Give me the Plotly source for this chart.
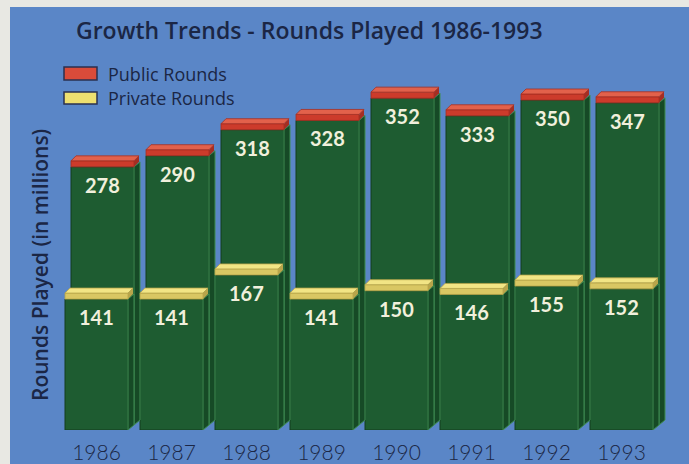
import plotly.graph_objects as go

# ---------------- data ----------------
years = ["1986", "1987", "1988", "1989", "1990", "1991", "1992", "1993"]
public_rounds = [278, 290, 318, 328, 352, 333, 350, 347]
private_rounds = [141, 141, 167, 141, 150, 146, 155, 152]

# ---------------- style ----------------
W, H = 689, 464
ML, MR, MT, MB = 56, 18, 40, 34
PW, PH = W - ML - MR, H - MT - MB
XR = [-0.55, 7.65]
YR = [0, 420]
XU = (XR[1] - XR[0]) / PW      # x units per px
YU = (YR[1] - YR[0]) / PH      # y units per px

FACE_L = -0.43
FACE_W = 0.84
DX = 6 * XU
DY = 5 * YU
CAP_H = 6 * YU
CDX = 5 * XU

BLUE = "#5a86c7"
GREEN = "#1e5c31"
GREEN_SIDE = "#164a26"
GREEN_EDGE = "#3f8c52"
RED_FRONT = "#cc3b2b"
RED_TOP = "#e2614b"
RED_SIDE = "#a52e22"
YEL_FRONT = "#d9c763"
YEL_TOP = "#f2e585"
YEL_SIDE = "#b8a54a"
NAVY = "#1b2645"
CREAM = "#f1f0dc"
FONT = "Lato"
TFONT = "Open Sans"

idx = list(range(len(years)))

fig = go.Figure()

# back (public) bar faces
fig.add_trace(go.Bar(
    x=idx, y=public_rounds, base=[DY] * len(idx),
    offset=FACE_L + DX, width=FACE_W,
    marker=dict(color=GREEN, line=dict(color="#123d1e", width=1)),
    hoverinfo="skip", showlegend=False))
# front (private) bar faces
fig.add_trace(go.Bar(
    x=idx, y=private_rounds, base=[0] * len(idx),
    offset=FACE_L, width=FACE_W,
    marker=dict(color=GREEN, line=dict(color="#123d1e", width=1)),
    hoverinfo="skip", showlegend=False))


def poly(pts):
    return "M " + " L ".join(f"{x},{y}" for x, y in pts) + " Z"


def side(xr, y0, y1):
    return poly([(xr, y0), (xr + DX, y0 + DY), (xr + DX, y1 + DY), (xr, y1)])


def cap(xl, xr, top, c_front, c_top, c_side):
    out = []
    out.append(dict(type="path", xref="x", yref="y", layer="above",
                    path=poly([(xl, top), (xr, top), (xr, top + CAP_H), (xl, top + CAP_H)]),
                    fillcolor=c_front, line=dict(color=c_side, width=0.8)))
    out.append(dict(type="path", xref="x", yref="y", layer="above",
                    path=poly([(xr, top), (xr + CDX, top + DY), (xr + CDX, top + DY + CAP_H), (xr, top + CAP_H)]),
                    fillcolor=c_side, line=dict(width=0)))
    t = top + CAP_H
    out.append(dict(type="path", xref="x", yref="y", layer="above",
                    path=poly([(xl, t), (xr, t), (xr + CDX, t + DY), (xl + CDX, t + DY)]),
                    fillcolor=c_top, line=dict(color=c_side, width=0.8)))
    return out


shapes = []
# blue panel
shapes.append(dict(type="rect", xref="paper", yref="paper", layer="below",
                   x0=(10 - ML) / PW, x1=1.2, y0=-0.3, y1=(H - MB - 7) / PH,
                   fillcolor=BLUE, line=dict(width=0)))

annotations = []
for i, (pub, pri) in enumerate(zip(public_rounds, private_rounds)):
    bl = i + FACE_L + DX
    br = bl + FACE_W
    shapes.append(dict(type="path", xref="x", yref="y", layer="above",
                       path=side(br, DY, pub + DY), fillcolor=GREEN_SIDE,
                       line=dict(color=GREEN_EDGE, width=1)))
    shapes += cap(bl, br, pub + DY, RED_FRONT, RED_TOP, RED_SIDE)
    fl = i + FACE_L
    fr = fl + FACE_W
    shapes.append(dict(type="path", xref="x", yref="y", layer="above",
                       path=side(fr, 0, pri), fillcolor=GREEN_SIDE,
                       line=dict(color=GREEN_EDGE, width=1)))
    shapes += cap(fl, fr, pri, YEL_FRONT, YEL_TOP, YEL_SIDE)
    annotations.append(dict(x=bl + FACE_W / 2, y=pub + DY, yshift=-18, text=str(pub),
                            showarrow=False, xref="x", yref="y",
                            font=dict(family=FONT, size=20, color=CREAM, weight="bold")))
    annotations.append(dict(x=fl + FACE_W / 2, y=pri, yshift=-18, text=str(pri),
                            showarrow=False, xref="x", yref="y",
                            font=dict(family=FONT, size=20, color=CREAM, weight="bold")))


def px_x(p):
    return (p - ML) / PW


def px_y(p):
    return (H - MB - p) / PH


legend_items = [("Public Rounds", "#d94b3a", 67, 80), ("Private Rounds", "#eee070", 92, 104)]
for label, col, y0, y1 in legend_items:
    shapes.append(dict(type="rect", xref="paper", yref="paper",
                       x0=px_x(64), x1=px_x(97), y0=px_y(y1), y1=px_y(y0),
                       fillcolor=col, line=dict(color="#2a3050", width=1.5)))
    annotations.append(dict(xref="paper", yref="paper", x=px_x(106), y=px_y((y0 + y1) / 2),
                            xanchor="left", yanchor="middle", text=label, showarrow=False,
                            font=dict(family=TFONT, size=18, color=NAVY)))

annotations.append(dict(xref="paper", yref="paper", x=px_x(74), y=px_y(30),
                        xanchor="left", yanchor="middle", showarrow=False,
                        text="Growth Trends - Rounds Played 1986-1993",
                        font=dict(family=TFONT, size=23, color=NAVY, weight=600)))
annotations.append(dict(xref="paper", yref="paper", x=px_x(40), y=px_y(265),
                        xanchor="center", yanchor="middle", showarrow=False, textangle=-90,
                        text="Rounds Played (in millions)",
                        font=dict(family=TFONT, size=21, color=NAVY, weight=600)))

fig.update_layout(
    width=W, height=H,
    margin=dict(l=ML, r=MR, t=MT, b=MB, pad=0, autoexpand=False),
    paper_bgcolor="#e8e8e3",
    plot_bgcolor="rgba(0,0,0,0)",
    barmode="overlay",
    showlegend=False,
    shapes=shapes,
    annotations=annotations,
    xaxis=dict(range=XR, tickmode="array", tickvals=[i + FACE_L + FACE_W / 2 for i in idx],
               ticktext=years, showgrid=False, zeroline=False, showline=False, ticks="",
               ticklabelstandoff=8, automargin=False,
               tickfont=dict(family=FONT, size=21, color=NAVY, weight=300)),
    yaxis=dict(range=YR, showgrid=False, zeroline=False, showline=False,
               showticklabels=False, ticks="", automargin=False),
)

fig.write_html("out.html")
